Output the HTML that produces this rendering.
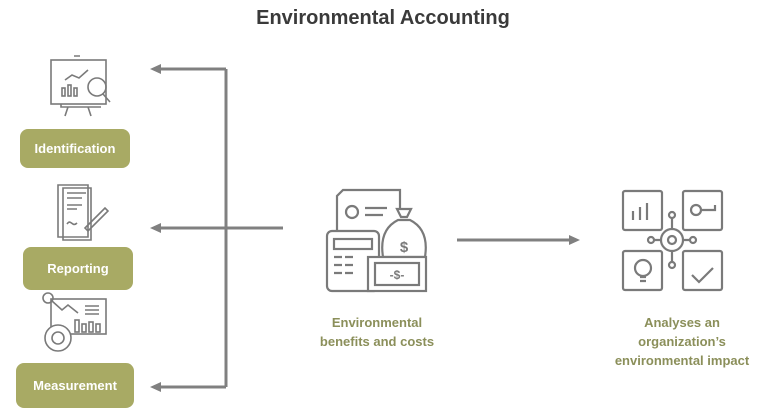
<!DOCTYPE html>
<html><head><meta charset="utf-8"><style>
body{margin:0;width:766px;height:411px;background:#fff;position:relative;overflow:hidden;font-family:"Liberation Sans",sans-serif}
.t{position:absolute;left:0;width:766px;top:7px;text-align:center;font-weight:bold;font-size:20px;color:#3a3a3a}
.b{position:absolute;background:#a8aa64;color:#fff;font-weight:bold;font-size:13px;border-radius:8px;display:flex;align-items:center;justify-content:center}
.l{position:absolute;text-align:center;color:#8b8f5a;font-weight:bold;font-size:13px;line-height:19px}
svg{position:absolute;left:0;top:0}
</style></head><body>
<div class="t">Environmental Accounting</div>
<div class="b" style="left:20px;top:129px;width:110px;height:39px">Identification</div>
<div class="b" style="left:23px;top:247px;width:110px;height:43px">Reporting</div>
<div class="b" style="left:16px;top:363px;width:118px;height:45px">Measurement</div>
<div class="l" style="left:297px;top:313px;width:160px">Environmental<br>benefits and costs</div>
<div class="l" style="left:592px;top:313px;width:180px">Analyses an<br>organization’s<br>environmental impact</div>
<svg width="766" height="411" fill="none" stroke="#7a7a7a" stroke-width="2.2">
<g stroke="#808080" stroke-width="3">
<path d="M226 69V387M226 69H158M283 228H158M226 387H158M457 240H570"/>
</g>
<g fill="#808080" stroke="none">
<path d="M150 69l11-5v10zM150 228l11-5v10zM150 387l11-5v10zM580 240l-11-5v10z"/>
</g>
<!-- identification icon -->
<g stroke-width="1.6">
<rect x="51" y="60" width="55" height="44"/><path d="M74 56h6M61 104v3h40M68 107l-3 9M88 107l3 9"/>
<path d="M65 80l7-5 7 3 9-8"/><rect x="62" y="88" width="3" height="8"/><rect x="68" y="85" width="3" height="11"/><rect x="74" y="88" width="3" height="8"/>
<circle cx="97" cy="87" r="9"/><path d="M103 94l7 8"/>
</g>
<!-- reporting icon -->
<g stroke-width="1.6">
<path d="M58 185h30v52H58z"/><path d="M63 188h28v52H63z"/><path d="M67 193h19M67 198h15M67 205h15M67 209h10M67 224c4-6 5 4 10-1"/><path d="M85 228l20-20 3 3-20 20z"/>
</g>
<!-- measurement icon -->
<g stroke-width="1.6">
<rect x="51" y="299" width="55" height="35"/><circle cx="48" cy="298" r="5"/><path d="M52 301l10 9 6-5 10 8"/>
<path d="M85 306h14M85 310h14M85 314h14"/><rect x="75" y="320" width="4" height="12"/><rect x="82" y="324" width="4" height="8"/><rect x="89" y="322" width="4" height="10"/><rect x="96" y="324" width="4" height="8"/>
<circle cx="58" cy="338" r="13" fill="#fff"/><circle cx="58" cy="338" r="6"/>
</g>
<!-- center icon -->
<g>
<path d="M337 231v-35l6-6h57v20"/><circle cx="352" cy="212" r="6"/><path d="M365 208h22M365 215h18"/>
<rect x="327" y="231" width="52" height="60" rx="5" fill="#fff"/><rect x="334" y="239" width="38" height="10"/>
<path d="M334 257h8M345 257h8M334 265h8M345 265h8M334 273h8M345 273h8"/>
<path d="M398 220c-12 6-18 18-15 37h42c3-19-3-31-15-37zM397 209h14l-4 8h-6z" fill="#fff"/>
<rect x="368" y="257" width="58" height="34" fill="#fff"/><rect x="375" y="263" width="44" height="22"/>
<text x="397" y="279" font-family="Liberation Sans" font-weight="bold" font-size="12" fill="#7a7a7a" stroke="none" text-anchor="middle">-$-</text>
<text x="404" y="252" font-family="Liberation Sans" font-weight="bold" font-size="15" fill="#7a7a7a" stroke="none" text-anchor="middle">$</text>
</g>
<!-- right icon -->
<g>
<rect x="623" y="191" width="39" height="39" rx="2"/><rect x="683" y="191" width="39" height="39" rx="2"/>
<rect x="623" y="251" width="39" height="39" rx="2"/><rect x="683" y="251" width="39" height="39" rx="2"/>
<path d="M633 220v-9M640 220v-13M647 220v-17"/><circle cx="696" cy="210" r="5"/><path d="M701 210h14v-5"/>
<circle cx="643" cy="268" r="8"/><path d="M640 277h6M640 281h6"/><path d="M692 275l7 7 14-14"/>
<circle cx="672" cy="240" r="11"/><circle cx="672" cy="240" r="4"/>
<path d="M672 229v-12M672 251v12M661 240h-7M683 240h7"/><circle cx="672" cy="215" r="3"/><circle cx="672" cy="265" r="3"/><circle cx="651" cy="240" r="3"/><circle cx="693" cy="240" r="3"/>
</g>
</svg>
</body></html>
